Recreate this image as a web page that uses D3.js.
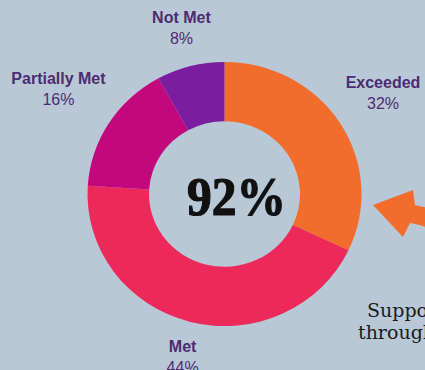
<!DOCTYPE html>
<html>
<head>
<meta charset="utf-8">
<script src="https://cdn.jsdelivr.net/npm/d3@7/dist/d3.min.js"></script>
<style>
  html, body { margin: 0; padding: 0; background: #b9c8d6; overflow: hidden; }
  svg { display: block; }
</style>
</head>
<body>
<svg id="chart" width="425" height="370"></svg>
<script>
// Share of students by performance level (percent)
const categories = ["Exceeded", "Met", "Partially Met", "Not Met"];
const values = [32, 44, 16, 8];
const colors = ["#f26c2b", "#ed2959", "#c3087e", "#7a1e9f"];

const W = 425, H = 370;
const cx = 224.5, cy = 194;
const outerR = 137, innerR = 75.5;
const squash = 0.964; // ring is drawn slightly flattened vertically

const svg = d3.select("#chart");
svg.append("rect").attr("width", W).attr("height", H).attr("fill", "#b9c8d6");

const data = categories.map((c, i) => ({ name: c, value: values[i], color: colors[i] }));

const pie = d3.pie().sort(null).value(d => d.value);
const arcs = pie(data);
const arc = d3.arc().innerRadius(innerR).outerRadius(outerR);

const g = svg.append("g").attr("transform", `translate(${cx},${cy})`);

g.append("g")
  .attr("transform", `scale(1,${squash})`)
  .selectAll("path.slice")
  .data(arcs)
  .join("path")
  .attr("class", "slice")
  .attr("d", arc)
  .attr("fill", d => d.data.color);

// Category labels sit outside the ring, pushed out along each slice's mid-angle
const labelColor = "#4b2d70";
const gap = 146;
arcs.forEach(a => {
  const mid = (a.startAngle + a.endAngle) / 2;
  const sx = Math.sin(mid), sy = -Math.cos(mid);
  const lg = g.append("g");
  lg.append("text")
    .attr("text-anchor", "middle")
    .attr("y", 0)
    .attr("font-family", "Liberation Sans, Arial, sans-serif")
    .attr("font-weight", "bold")
    .attr("font-size", 16)
    .attr("fill", labelColor)
    .text(a.data.name);
  lg.append("text")
    .attr("text-anchor", "middle")
    .attr("y", 21)
    .attr("font-family", "Liberation Sans, Arial, sans-serif")
    .attr("font-size", 16)
    .attr("fill", labelColor)
    .text(a.data.value + "%");
  const bb = lg.node().getBBox();
  const ext = Math.abs(sx) * bb.width / 2 + Math.abs(sy) * bb.height / 2;
  const r = gap + ext;
  const tx = sx * r, ty = sy * r;
  lg.attr("transform", `translate(${tx - (bb.x + bb.width / 2)},${ty - (bb.y + bb.height / 2)})`);
});

// Centre figure: everyone except the "Not Met" group
const notMetIdx = categories.indexOf("Not Met");
const total = d3.sum(values) - values[notMetIdx];
g.append("text")
  .attr("x", 12)
  .attr("y", 21)
  .attr("text-anchor", "middle")
  .attr("font-family", "Liberation Serif, Times New Roman, serif")
  .attr("font-weight", "bold")
  .attr("font-size", 55)
  .attr("textLength", 99)
  .attr("lengthAdjust", "spacingAndGlyphs")
  .attr("fill", "#111111")
  .attr("stroke", "#111111")
  .attr("stroke-width", 1.2)
  .text(total + "%");

// Pointer arrow on the right
const arrow = svg.append("g").attr("transform", "translate(373,205)");
arrow.append("path")
  .attr("d", "M0,0 L40,-15 L42,0 C46,1 50,2 56,3 L56,23 C50,21 44,19 37,18 L30,32 Z")
  .attr("fill", "#f26c2b");

// Caption text at lower right
const cap = svg.append("g")
  .attr("font-family", "DejaVu Serif, serif")
  .attr("font-size", 19)
  .attr("fill", "#1a1a1a");
cap.append("text").attr("x", 367).attr("y", 317).text("Supported");
cap.append("text").attr("x", 358).attr("y", 339).text("through");
</script>
</body>
</html>
